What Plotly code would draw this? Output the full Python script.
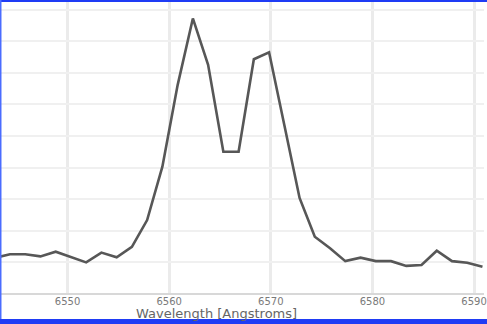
import plotly.graph_objects as go

# H-alpha region spectrum: double-peaked emission line
wavelength_start = 6542.83
wavelength_step = 1.5
flux = [1.14, 1.26, 1.26, 1.19, 1.34, 1.16, 1.00, 1.31, 1.16, 1.49,
        2.34, 4.03, 6.61, 8.72, 7.25, 4.50, 4.50, 7.43, 7.65, 5.35,
        3.04, 1.81, 1.45, 1.04, 1.15, 1.04, 1.04, 0.89, 0.92, 1.37,
        1.04, 0.99, 0.86]
wavelength = [wavelength_start + i * wavelength_step for i in range(len(flux))]

x_ticks = [6550, 6560, 6570, 6580, 6590]
x_title = "Wavelength [Angstroms]"

W, H = 487, 324
margin_b = 30
plot_h = H - margin_b

fig = go.Figure(
    go.Scatter(
        x=wavelength, y=flux, mode="lines",
        line=dict(color="#575757", width=2.6),
        hoverinfo="skip",
    )
)

fig.update_layout(
    width=W, height=H,
    margin=dict(l=0, r=0, t=0, b=margin_b),
    paper_bgcolor="white", plot_bgcolor="white",
    showlegend=False,
    xaxis=dict(
        range=[6543.35, 6590.98],
        tickvals=x_ticks, ticktext=[str(v) for v in x_ticks],
        showgrid=True, gridcolor="#ebebeb", gridwidth=3,
        zeroline=False, showline=False, ticks="",
        tickfont=dict(family="DejaVu Sans", size=10, color="#7a7a7a"),
        ticklabelstandoff=0,
        ticklabeloverflow="allow",
    ),
    yaxis=dict(
        range=[0, plot_h / 31.6],
        dtick=1, tick0=0,
        showgrid=True, gridcolor="#f0f0f0", gridwidth=2,
        zeroline=True, zerolinecolor="#d8d8d8", zerolinewidth=2,
        showticklabels=False, ticks="", showline=False,
    ),
    annotations=[
        dict(
            text=x_title, xref="paper", yref="paper",
            x=218 / W, y=-(313 - plot_h) / plot_h,
            xanchor="center", yanchor="middle", showarrow=False,
            font=dict(family="DejaVu Sans", size=13, color="#666666"),
        )
    ],
)

# Blue frame around the figure (top, left and bottom edges)
frame = "#1f3cf5"
fig.add_shape(type="rect", xref="paper", yref="paper",
              x0=-0.01, x1=1.01, y0=1.0 - 2 / plot_h, y1=1.02,
              fillcolor=frame, line=dict(width=0), layer="above")
fig.add_shape(type="rect", xref="paper", yref="paper",
              x0=-0.01, x1=1.5 / W, y0=-margin_b / plot_h - 0.02, y1=1.02,
              fillcolor="#4a6cff", line=dict(width=0), layer="above")
fig.add_shape(type="rect", xref="paper", yref="paper",
              x0=-0.01, x1=1.01, y0=-margin_b / plot_h - 0.02, y1=-(319 - plot_h) / plot_h,
              fillcolor=frame, line=dict(width=0), layer="above")

fig.write_html("out.html", config={"displayModeBar": False})
